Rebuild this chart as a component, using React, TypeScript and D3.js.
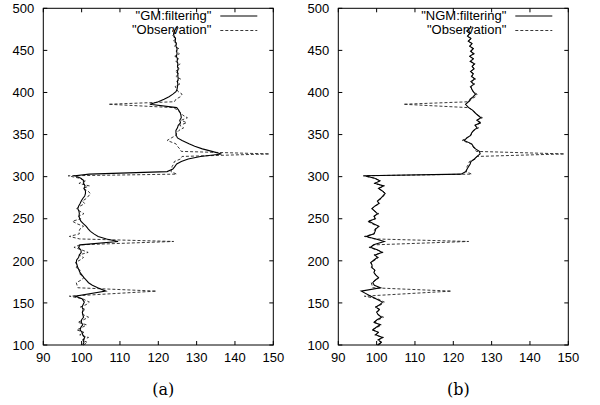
import React, { useEffect, useRef } from "react"
import * as d3 from "d3"

// depth index (vertical axis) shared by all series
const depth = [
  100, 103, 106, 109, 112, 115, 118, 121, 124, 127, 130, 133, 136, 139, 142, 145, 148, 151, 155, 158,
  164, 168, 171, 174, 177, 180, 183, 186, 189, 192, 195, 198, 201, 204, 207, 210, 213, 216, 219, 223,
  226, 229, 232, 235, 238, 241, 244, 247, 250, 253, 256, 259, 262, 265, 268, 271, 274, 277, 280, 283,
  286, 289, 292, 295, 298, 301, 303, 306, 309, 312, 315, 318, 321, 324, 327, 330, 333, 336, 339, 343,
  346, 349, 352, 355, 358, 361, 364, 367, 370, 373, 376, 379, 382, 386, 389, 392, 395, 398, 401, 404,
  407, 410, 413, 416, 419, 422, 425, 428, 431, 434, 437, 440, 443, 446, 449, 452, 455, 458, 461, 464,
  467, 470, 473, 476, 479
]

const observation = [
  100.5, 101.5, 100.2, 101.8, 99.5, 100.6, 98.7, 100.2, 101.3, 99.0, 100.5, 101.8, 100.4, 100.0, 101.0, 99.6, 101.2, 102.0, 100.2, 96.8,
  119.5, 99.0, 98.8, 98.6, 99.8, 100.6, 99.8, 99.3, 99.6, 98.6, 98.8, 98.4, 99.6, 100.5, 99.3, 101.7, 100.0, 98.0, 99.5, 124.0,
  99.5, 96.8, 99.4, 99.3, 99.6, 100.5, 98.8, 97.6, 99.8, 99.2, 100.6, 99.5, 98.7, 99.6, 100.8, 100.2, 101.2, 101.8, 102.3, 101.6,
  100.4, 102.0, 99.3, 101.0, 99.6, 96.5, 124.8, 123.3, 123.5, 123.6, 124.0, 124.2, 125.8, 126.2, 149.0, 126.0, 125.6, 125.0, 124.6, 122.3,
  123.4, 124.6, 124.8, 125.4, 126.6, 125.6, 127.4, 126.0, 127.6, 126.4, 125.8, 125.0, 124.0, 107.0, 124.2, 124.6, 125.8, 126.2, 125.2, 124.8,
  124.4, 125.6, 124.8, 125.8, 124.6, 125.4, 124.4, 125.6, 124.8, 125.7, 124.5, 125.3, 124.3, 125.5, 124.6, 125.4, 124.2, 125.0, 123.8, 124.8,
  123.6, 124.2, 123.6, 124.4, 125.0
]

const gmFiltering = [
  100.3, 100.6, 100.4, 100.8, 100.3, 100.1, 99.6, 99.8, 100.3, 99.9, 100.0, 100.5, 100.3, 100.2, 100.4, 100.1, 100.4, 100.7, 100.1, 98.3,
  106.3, 104.2, 102.8, 101.8, 101.2, 100.6, 100.1, 99.6, 99.3, 99.0, 98.8, 98.6, 98.7, 99.2, 99.4, 99.9, 99.8, 99.2, 99.6, 109.5,
  106.5, 104.3, 103.2, 102.3, 101.7, 101.2, 100.5, 99.8, 99.5, 99.3, 99.4, 99.3, 99.0, 99.2, 99.6, 99.9, 100.3, 100.8, 101.0, 101.0,
  100.6, 100.9, 100.5, 100.6, 99.8, 98.2, 102.0, 122.3, 123.8, 124.3, 124.8, 126.0, 127.8, 131.0, 136.5, 134.0, 131.5, 129.5, 128.0, 126.2,
  125.0, 124.7, 124.6, 124.6, 125.0, 125.2, 125.8, 125.6, 126.0, 125.9, 125.7, 125.3, 124.8, 117.8, 120.0, 121.5, 122.8, 123.8, 124.6, 124.9,
  125.0, 125.1, 125.0, 125.2, 125.1, 125.1, 125.0, 125.2, 125.0, 125.1, 124.9, 125.0, 124.7, 124.9, 124.8, 124.9, 124.6, 124.7, 124.4, 124.5,
  124.1, 124.0, 124.2, 124.6, 125.0
]

const ngmFiltering = [
  100.2, 101.2, 100.5, 101.5, 99.8, 100.4, 99.0, 99.9, 100.9, 99.4, 100.1, 101.3, 100.4, 100.0, 100.7, 99.8, 100.9, 101.5, 99.8, 98.5,
  96.0, 101.0, 99.4, 99.0, 99.6, 100.5, 99.8, 99.3, 99.5, 98.8, 98.8, 98.5, 99.3, 100.2, 99.6, 101.4, 100.3, 98.4, 99.2, 102.0,
  99.8, 97.3, 99.3, 99.6, 99.8, 100.6, 99.2, 98.0, 99.6, 99.4, 100.2, 99.5, 98.8, 99.5, 100.6, 100.2, 101.0, 101.6, 102.2, 101.5,
  100.5, 101.8, 99.6, 100.8, 99.5, 96.8, 122.0, 123.3, 123.6, 124.0, 124.4, 124.6, 125.5, 126.2, 127.0, 126.8, 125.8, 125.2, 124.8, 122.8,
  123.6, 124.5, 124.8, 125.3, 126.2, 125.7, 127.0, 126.2, 127.2, 126.4, 125.6, 125.0, 124.0, 123.2, 124.0, 124.4, 125.2, 125.8, 125.2, 124.8,
  124.6, 125.3, 124.6, 125.6, 124.8, 125.2, 124.5, 125.4, 124.9, 125.5, 124.4, 125.2, 124.3, 125.3, 124.5, 125.2, 124.3, 124.9, 123.9, 124.6,
  123.7, 124.3, 123.5, 124.3, 124.6
]

const xTicks = [90, 100, 110, 120, 130, 140, 150]
const yTicks = [100, 150, 200, 250, 300, 350, 400, 450, 500]

const panels = [
  { left: 43.3, right: 273.3, filtered: gmFiltering, label: '"GM:filtering"', caption: "(a)" },
  { left: 338.3, right: 568.3, filtered: ngmFiltering, label: '"NGM:filtering"', caption: "(b)" },
]

const top = 8.3
const bottom = 345
const font = "'Liberation Sans', Arial, Helvetica, sans-serif"
const fontSize = "13px"

const drawPanel = (svg, p) => {
  const x = d3.scaleLinear().domain([90, 150]).range([p.left, p.right])
  const y = d3.scaleLinear().domain([100, 500]).range([bottom, top])
  const g = svg.append("g")

  // inward ticks on all four sides
  const tick = 4
  xTicks.forEach(t => {
    g.append("line").attr("x1", x(t)).attr("x2", x(t)).attr("y1", bottom).attr("y2", bottom - tick).attr("stroke", "#000")
    g.append("line").attr("x1", x(t)).attr("x2", x(t)).attr("y1", top).attr("y2", top + tick).attr("stroke", "#000")
    g.append("text").attr("x", x(t)).attr("y", 362).attr("text-anchor", "middle")
      .style("font-family", font).style("font-size", fontSize).text(t)
  })
  yTicks.forEach(t => {
    g.append("line").attr("x1", p.left).attr("x2", p.left + tick).attr("y1", y(t)).attr("y2", y(t)).attr("stroke", "#000")
    g.append("line").attr("x1", p.right).attr("x2", p.right - tick).attr("y1", y(t)).attr("y2", y(t)).attr("stroke", "#000")
    g.append("text").attr("x", p.left - 9).attr("y", y(t)).attr("dy", "0.36em").attr("text-anchor", "end")
      .style("font-family", font).style("font-size", fontSize).text(t)
  })

  const line = d3.line<number>().x(d => x(d)).y((d, i) => y(depth[i]))

  g.append("path").attr("d", line(observation)).attr("fill", "none")
    .attr("stroke", "#222").attr("stroke-width", 0.9).attr("stroke-dasharray", "3,2")
  g.append("path").attr("d", line(p.filtered)).attr("fill", "none")
    .attr("stroke", "#000").attr("stroke-width", 1.1)

  // frame
  g.append("rect").attr("x", p.left).attr("y", top).attr("width", p.right - p.left).attr("height", bottom - top)
    .attr("fill", "none").attr("stroke", "#000")

  // legend
  const lx = p.right - 53
  g.append("text").attr("x", lx - 9).attr("y", 20).attr("text-anchor", "end")
    .style("font-family", font).style("font-size", fontSize).text(p.label)
  g.append("line").attr("x1", lx).attr("x2", lx + 37).attr("y1", 16).attr("y2", 16)
    .attr("stroke", "#000").attr("stroke-width", 1.1)
  g.append("text").attr("x", lx - 9).attr("y", 34).attr("text-anchor", "end")
    .style("font-family", font).style("font-size", fontSize).text('"Observation"')
  g.append("line").attr("x1", lx).attr("x2", lx + 37).attr("y1", 30.5).attr("y2", 30.5)
    .attr("stroke", "#222").attr("stroke-width", 0.9).attr("stroke-dasharray", "3,2")

  // subfigure caption
  g.append("text").attr("x", (p.left + p.right) / 2 + 5).attr("y", 395).attr("text-anchor", "middle")
    .style("font-family", "'DejaVu Serif', 'Liberation Serif', serif").style("font-size", "16px").text(p.caption)
}

export default function App() {
  const ref = useRef(null)
  useEffect(() => {
    const svg = d3.select(ref.current)
    svg.selectAll("*").remove()
    panels.forEach(p => drawPanel(svg, p))
  }, [])

  return (
    <svg ref={ref} width={600} height={405}
      style={{ position: "absolute", left: 0, top: 0, background: "#fff" }} />
  )
}
